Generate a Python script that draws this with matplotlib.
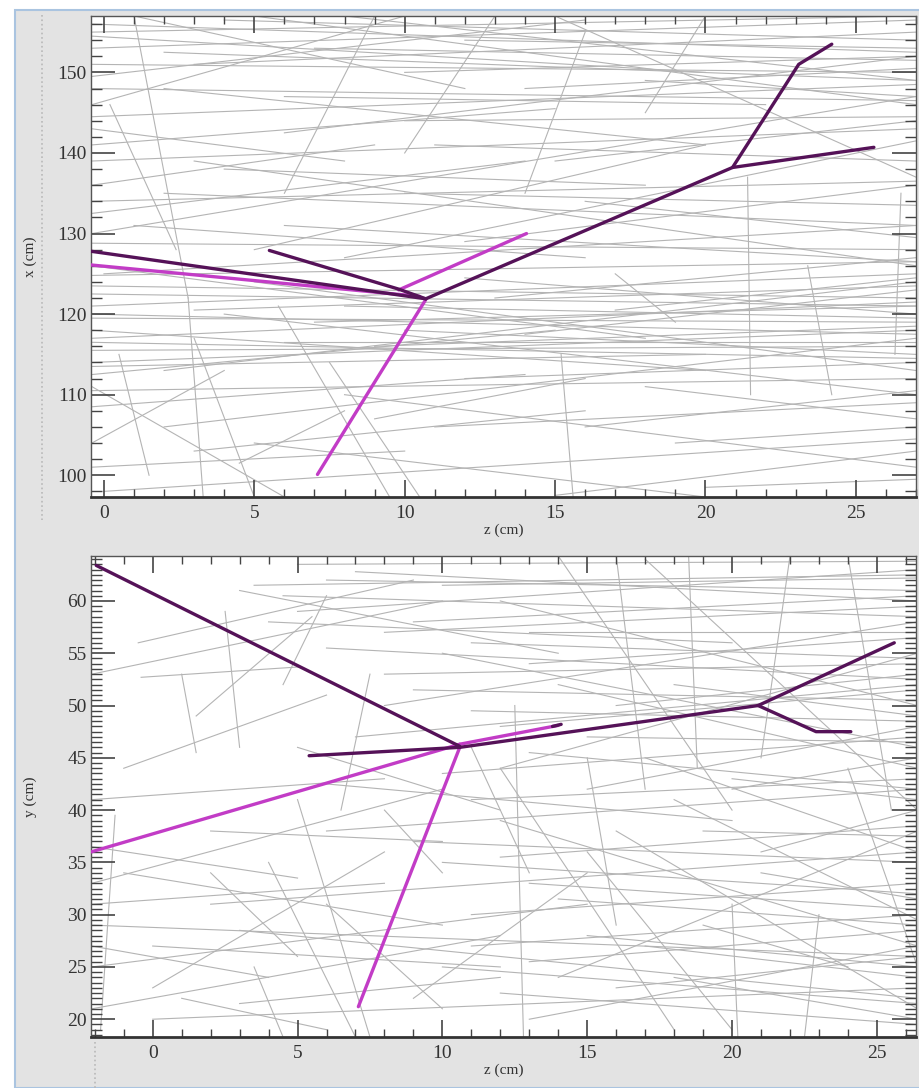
import matplotlib.pyplot as plt
from matplotlib.ticker import MultipleLocator
from matplotlib.patches import Rectangle
from matplotlib.lines import Line2D

plt.rcParams['font.family'] = ['Liberation Serif', 'DejaVu Serif']

# ---- top view: z vs x ------------------------------------------------------
# background tracks (z0, x0, z1, x1)
bg_top = [
    (-0.4, 156.0, 27, 152.5), (-0.4, 153.0, 27, 156.5), (1.0, 157, 12, 148),
    (3, 151, 27, 155), (-0.4, 149.5, 16, 156.5), (5, 157, 27, 146),
    (8, 157, 27, 149), (-0.4, 146, 10, 157), (-0.4, 151, 27, 150),
    (12, 154, 27, 153), (-0.4, 144.5, 27, 148.5), (2, 148, 20, 141),
    (-0.4, 141, 15, 145.5), (6, 142.5, 27, 152), (10, 144, 27, 144.5),
    (-0.4, 143, 8, 139), (15, 157, 27, 137), (18, 149, 27, 147),
    (-0.4, 130, 27, 147), (-0.4, 132.5, 14, 139), (2, 135, 27, 131),
    (5, 128, 20, 141), (-0.4, 136, 9, 141), (8, 127, 27, 141.5),
    (0, 125, 27, 131), (3, 139, 27, 126), (10, 135, 27, 133.5),
    (12, 129, 27, 136), (-0.4, 128.8, 27, 128.0), (6, 131, 27, 126.5),
    (15, 139, 27, 144), (-0.4, 123.5, 27, 122), (-0.4, 121, 27, 125),
    (-0.4, 119.5, 27, 119), (-0.4, 117, 27, 121.5), (-0.4, 115.5, 27, 116),
    (-0.4, 114, 27, 118), (2, 113, 27, 124), (-0.4, 118, 20, 113),
    (5, 124, 27, 113), (-0.4, 126, 18, 117), (8, 121, 27, 119.5),
    (10, 118, 27, 115), (-0.4, 112.5, 15, 118), (12, 124.5, 27, 120),
    (-0.4, 110.5, 27, 112), (4, 120, 27, 110), (14, 117.5, 27, 123),
    (6, 116.5, 27, 116.5), (-0.4, 104, 4, 113), (2, 106, 27, 117),
    (0, 98, 27, 104.5), (5, 104, 20, 97.3), (8, 110, 27, 101),
    (15, 97.5, 27, 103), (-0.4, 111, 6, 97.3), (11, 106, 27, 109),
    (20, 98.5, 27, 99.5), (9, 107, 16, 112), (4.5, 101.5, 8, 108),
    (1.0, 157, 2.8, 122), (0.2, 146, 2.4, 128), (2.8, 122, 3.3, 97.3),
    (3.0, 117, 5.0, 97.3), (5.8, 121, 9.5, 97.3), (7.5, 114, 10.5, 97.3),
    (15.2, 115, 15.6, 97.3), (21.4, 137, 21.5, 110), (23.4, 126, 24.2, 110),
    (17, 125, 19, 119), (26.5, 135, 26.3, 115), (13, 157, 10, 140),
    (16, 155, 14, 135), (9, 157, 6, 135), (0.5, 115, 1.5, 100),
    (20, 157, 18, 145),
    (-0.4, 155, 27, 157), (4, 156.5, 27, 154), (-0.4, 154.5, 20, 150),
    (7, 153, 27, 151.5), (2, 152.5, 27, 149), (10, 150, 27, 152),
    (-0.4, 148, 27, 146.5), (14, 148, 27, 150.5), (6, 147, 22, 146),
    (-0.4, 139, 27, 143), (11, 141, 27, 139), (4, 138, 18, 136),
    (-0.4, 134, 27, 136.5), (16, 134, 27, 129.5), (1, 131, 16, 127),
    (-0.4, 124.8, 27, 126.5), (-0.4, 122.5, 27, 121), (3, 120.5, 27, 123.5),
    (-0.4, 120, 27, 117.5), (7, 119, 27, 121), (-0.4, 116.5, 27, 114.5),
    (9, 116, 27, 118.5), (-0.4, 113.5, 20, 115), (12, 112, 27, 114),
    (-0.4, 108.5, 14, 112.5), (18, 111, 27, 107), (16, 106, 27, 110.5),
    (3, 103, 16, 108), (19, 104, 27, 106), (-0.4, 101, 10, 103),
    (13, 122, 27, 127), (17, 120.5, 27, 124.5),
]

# reconstructed tracks (z list, x list)
dark_top = [
    ([-0.43, 10.7], [127.8, 121.9]),
    ([5.5, 9.8, 10.7], [127.9, 123.1, 121.9]),
    ([10.7, 20.9, 23.1, 24.2], [121.9, 138.2, 151.0, 153.5]),
    ([20.9, 25.6], [138.2, 140.7]),
]
pink_top = [
    ([-0.43, 10.5], [126.1, 122.2]),
    ([9.8, 14.05], [123.0, 130.0]),
    ([10.7, 7.1], [121.8, 100.1]),
]

# ---- side view: z vs y -----------------------------------------------------
bg_bot = [
    (3.5, 61.5, 26.4, 62.5), (4.5, 60.5, 26.4, 58.5), (6, 62, 26.4, 61),
    (5, 59, 26.4, 63), (3, 61, 14, 55), (-2.1, 53, 10, 60),
    (-0.4, 52.7, 5.1, 53.7), (-0.5, 56, 9, 62), (1.5, 49, 5.5, 58.5),
    (-1, 44, 6, 51), (1.0, 53, 1.5, 45.5), (2.5, 59, 3.0, 46),
    (-2.1, 41, 8, 43), (8, 50, 26.4, 58), (7, 47, 26.4, 52),
    (10, 55, 26.4, 46), (12, 60, 26.4, 50), (8, 53, 26.4, 54),
    (12, 44, 26.4, 55), (11, 49.5, 26.4, 48.5), (13, 57, 26.4, 57),
    (14, 52, 26.4, 44), (9, 58, 26.4, 60.5), (15, 42, 26.4, 48),
    (17, 64, 26.4, 40), (14, 64.3, 20, 40), (16, 64.3, 17, 42),
    (18.5, 64.3, 18.8, 44), (22, 64.3, 21, 45), (24, 64.3, 25.5, 40),
    (12.5, 50, 12.8, 18.3), (20, 42, 26.4, 45), (11, 41, 26.4, 43),
    (6, 42.5, 20, 39), (5, 46, 12, 40), (7.5, 53, 6.5, 40),
    (6, 60.5, 4.5, 52), (-2.1, 33, 10, 42), (-1, 34, 10, 29),
    (-2.1, 29, 26.4, 26), (-2.1, 25, 15, 31), (0, 23, 8, 36),
    (2, 31, 26.4, 36), (-2.1, 21, 12, 28), (3, 28.5, 26.4, 22),
    (-1.3, 39.5, -1.8, 19), (1, 22, 6, 19), (4, 35, 7, 18.3),
    (5, 41, 7.5, 18.3), (3.5, 25, 4.5, 18.3), (2, 34, 5, 26),
    (8, 40, 10, 34), (10, 35, 26.4, 32), (12, 39, 26.4, 27),
    (13, 33, 26.4, 30.5), (14, 24, 26.4, 38), (15, 36, 20, 19),
    (17, 45, 26.4, 36), (16, 38, 26.4, 21), (11, 30, 26.4, 33),
    (13, 20, 26.4, 27), (18, 41, 26.4, 29.5), (10, 25, 26.4, 21.5),
    (19, 29, 24, 25), (12, 44, 18, 19), (21, 36, 26.4, 40),
    (20, 31, 20.2, 18.3), (23, 30, 22.5, 18.3), (9, 22, 15, 34),
    (15, 45, 16, 29), (17, 27, 26.4, 24), (-2.1, 27, 4, 24),
    (0, 20, 26.4, 23), (6, 31, 10, 21), (11, 46, 13, 34),
    (24, 44, 26.4, 25),
    (5, 63.5, 26.4, 63.8), (7, 62.8, 26.4, 60), (10, 61.5, 26.4, 62.2),
    (4, 58, 20, 56), (8, 57, 26.4, 59.5), (11, 56, 26.4, 54.5),
    (6, 55.5, 26.4, 52.5), (13, 54, 26.4, 56.5), (9, 51.5, 26.4, 50.5),
    (12, 48, 26.4, 51.5), (15, 47, 26.4, 46.5), (10, 43.5, 26.4, 47),
    (13, 45.5, 26.4, 42), (16, 50, 26.4, 53), (18, 52, 26.4, 49),
    (6, 38, 26.4, 42), (9, 37, 26.4, 35), (12, 35.5, 26.4, 38.5),
    (14, 31.5, 26.4, 29), (11, 27, 26.4, 30), (15, 28, 26.4, 25),
    (13, 25.5, 26.4, 28.5), (16, 23, 26.4, 26), (18, 24, 26.4, 20),
    (12, 22.5, 26.4, 19.5), (-2.1, 31, 8, 33), (0, 27, 12, 25),
    (2, 38, 10, 37), (-2.1, 36.5, 5, 33.5), (3, 21.5, 12, 24),
    (19, 38, 26.4, 37.5), (21, 34, 26.4, 31.5), (20, 43, 26.4, 41),
]

dark_bot = [
    ([-1.95, 10.6], [63.4, 46.1]),
    ([5.4, 10.6], [45.2, 46.0]),
    ([10.6, 20.9, 25.6], [46.0, 50.0, 56.0]),
    ([20.9, 22.9, 24.1], [50.0, 47.5, 47.5]),
    ([13.8, 14.1], [48.0, 48.2]),
]
pink_bot = [
    ([-2.13, 10.6], [36.0, 46.3]),
    ([10.6, 14.0], [46.3, 48.1]),
    ([10.6, 7.1], [46.0, 21.2]),
]

fig = plt.figure(figsize=(9.2, 10.88), dpi=100)
fig.patch.set_facecolor('white')
# window-ish frame behind the plots
fig.patches.append(Rectangle((15 / 920, 0), 1, 1 - 10 / 1088, transform=fig.transFigure,
                             facecolor='#e3e3e3', edgecolor='#aac4e0', lw=1.5, zorder=-10))
fig.lines.append(Line2D([42 / 920, 42 / 920], [1 - 15 / 1088, 1 - 520 / 1088],
                        transform=fig.transFigure, color='#b8b8b8', lw=1.2, ls=':'))
fig.lines.append(Line2D([95 / 920, 95 / 920], [1 - 1042 / 1088, 0],
                        transform=fig.transFigure, color='#b8b8b8', lw=1.2, ls=':'))

ax1 = fig.add_axes([91 / 920, 1 - 497 / 1088, 825 / 920, 481 / 1088])
ax2 = fig.add_axes([91 / 920, 1 - 1037 / 1088, 825 / 920, 481 / 1088])


def draw(ax, bg, dark, pink):
    for z0, a0, z1, a1 in bg:
        ax.plot([z0, z1], [a0, a1], color='#b4b4b4', lw=0.8, zorder=1)
    for zs, vs in pink:
        ax.plot(zs, vs, color='#c23cc6', lw=2.4, solid_capstyle='round', zorder=3)
    for zs, vs in dark:
        ax.plot(zs, vs, color='#551258', lw=2.4, solid_capstyle='round', zorder=4)


draw(ax1, bg_top, dark_top, pink_top)
draw(ax2, bg_bot, dark_bot, pink_bot)

ax1.set_xlim(-0.43, 27.0)
ax1.set_ylim(97.3, 157.0)
ax2.set_xlim(-2.13, 26.35)
ax2.set_ylim(18.3, 64.3)

ax1.yaxis.set_major_locator(MultipleLocator(10))
ax1.yaxis.set_minor_locator(MultipleLocator(2))
ax2.yaxis.set_major_locator(MultipleLocator(5))
ax2.yaxis.set_minor_locator(MultipleLocator(0.5))

for ax, ylab in [(ax1, 'x (cm)'), (ax2, 'y (cm)')]:
    ax.set_facecolor('white')
    ax.xaxis.set_major_locator(MultipleLocator(5))
    ax.xaxis.set_minor_locator(MultipleLocator(1))
    ax.tick_params(which='both', direction='in', top=True, right=True,
                   colors='#444444', labelcolor='#333333', labelsize=14)
    ax.tick_params(axis='x', which='major', length=12, width=1.2, pad=6)
    ax.tick_params(axis='x', which='minor', length=6, width=1.0)
    ax.tick_params(axis='y', which='major', length=17, width=1.2, pad=3)
    ax.tick_params(axis='y', which='minor', length=8, width=1.0)
    for s in ax.spines.values():
        s.set_color('#555555')
        s.set_linewidth(1.0)
    ax.spines['bottom'].set_linewidth(2.0)
    ax.spines['bottom'].set_color('#333333')
    ax.set_xlabel('z (cm)', fontsize=11, color='#333333', labelpad=1)
    ax.set_ylabel(ylab, fontsize=11, color='#333333')
    ax.yaxis.set_label_coords(-0.065, 0.5)

fig.savefig('out.png', dpi=100)
